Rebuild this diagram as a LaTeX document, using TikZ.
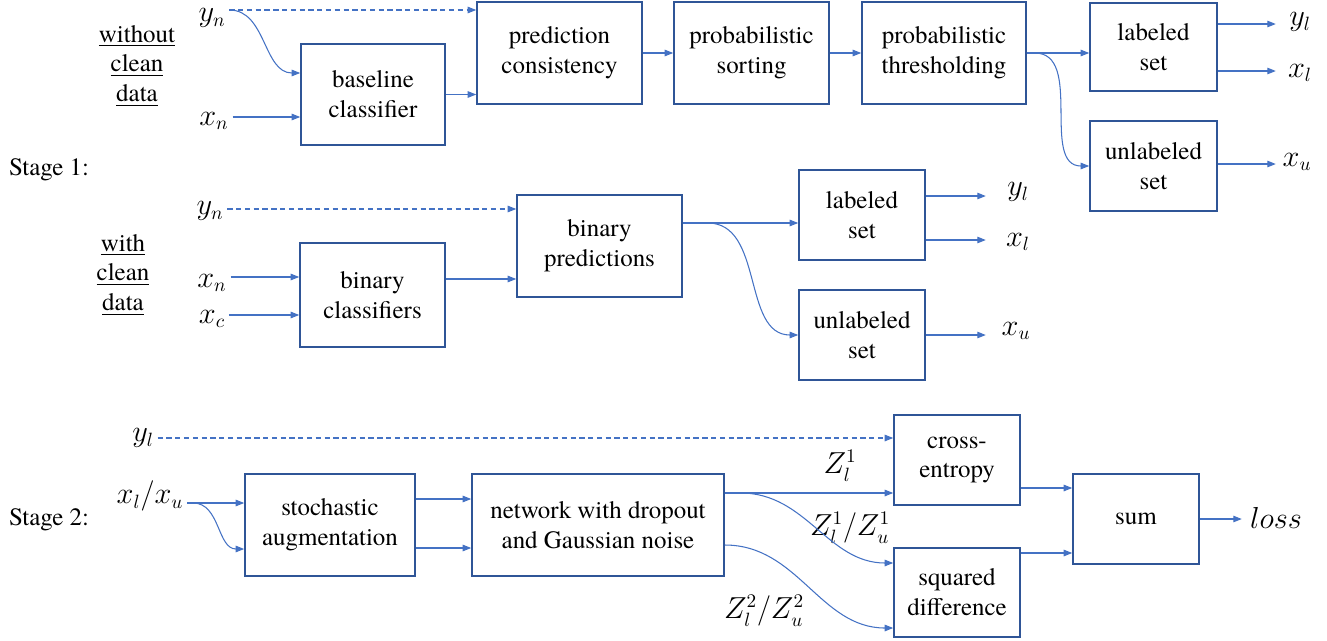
\documentclass[tikz,border=0pt]{standalone}
\usepackage{amsmath}
\usepackage{fontspec}
\setmainfont{TeX Gyre Termes}
\usepackage{tikz}
\usetikzlibrary{positioning, arrows.meta, calc}
\definecolor{boxblue}{RGB}{47,85,151}
\definecolor{arrowblue}{RGB}{68,114,196}

\begin{document}
\begin{tikzpicture}[x=0.02cm, y=-0.02cm,
        every node/.style={font=\fontsize{14.2}{17}\selectfont},
        var/.style={font=\fontsize{16}{18}\selectfont, inner sep=2pt},
        blk/.style={draw=boxblue, line width=0.9pt, align=center, inner sep=0pt},
        flow/.style={draw=arrowblue, line width=0.6pt, -{Triangle[length=0.17cm, width=0.13cm]}},
        hint/.style={flow, dashed, dash pattern=on 3pt off 2pt}]
            \useasboundingbox (0,0) rectangle (1327,640);

            % Stage labels
            \node (st1) at (49,170) {Stage 1:};
            \node (st2) at (49,520) {Stage 2:};
            \node[align=center] (noclean) at (137,66) {\underline{without}\\\underline{clean}\\\underline{data}};
            \node[align=center] (clean) at (123,275) {\underline{with}\\\underline{clean}\\\underline{data}};

            % Stage 1 - without clean data
            \node[blk, minimum width=144*0.02cm, minimum height=101*0.02cm] (base) at (373,94.5) {baseline\\classifier};
            \node[blk, minimum width=165*0.02cm, minimum height=102*0.02cm] (cons) at (559.5,53) {prediction\\consistency};
            \node[blk, minimum width=155*0.02cm, minimum height=102*0.02cm] (sort) at (751.5,53) {probabilistic\\sorting};
            \node[blk, minimum width=164*0.02cm, minimum height=102*0.02cm] (thr) at (944,53) {probabilistic\\thresholding};
            \node[blk, minimum width=127*0.02cm, minimum height=88*0.02cm] (lab1) at (1153.5,47) {labeled\\set};
            \node[blk, minimum width=127*0.02cm, minimum height=90*0.02cm] (unl1) at (1153.5,166) {unlabeled\\set};

            \node[var] (yn1) at (212,18) {$y_n$};
            \node[var] (xn1) at (214,121) {$x_n$};
            \node[var] (yl1) at (1300,22) {$y_l$};
            \node[var] (xl1) at (1300,73) {$x_l$};
            \node[var] (xu1) at (1297,162) {$x_u$};

            \coordinate (y1) at ($(yn1.east)+(0,-8)$);
            \draw[hint] (y1) -- (y1 -| cons.west);
            \draw[flow] (y1) to[out=0, in=180] ($(base.west)+(0,-21.5)$);
            \coordinate (x1) at ($(xn1.east)+(0,-4)$);
            \draw[flow] (x1) -- (x1 -| base.west);
            \draw[flow] (base.east) -- (base.east -| cons.west);
            \draw[flow] (cons.east) -- (sort.west);
            \draw[flow] (sort.east) -- (thr.west);
            \draw[flow] (thr.east) -- (thr.east -| lab1.west);
            \draw[flow] (thr.east) -- ++(8,0) to[out=0, in=180] (unl1.west);
            \draw[flow] ($(lab1.east)+(0,-23)$) -- ($(lab1.east)+(58,-23)$);
            \draw[flow] ($(lab1.east)+(0,24)$) -- ($(lab1.east)+(58,24)$);
            \draw[flow] ($(unl1.east)+(0,-2)$) -- ($(unl1.east)+(58,-2)$);

            % Stage 1 - with clean data
            \node[blk, minimum width=145*0.02cm, minimum height=104*0.02cm] (bcls) at (372.5,295) {binary\\classifiers};
            \node[blk, minimum width=165*0.02cm, minimum height=102*0.02cm] (bpred) at (599.5,246) {binary\\predictions};
            \node[blk, minimum width=126*0.02cm, minimum height=90*0.02cm] (lab2) at (862,215) {labeled\\set};
            \node[blk, minimum width=126*0.02cm, minimum height=90*0.02cm] (unl2) at (862,335) {unlabeled\\set};

            \node[var] (yn2) at (210,211) {$y_n$};
            \node[var] (xn2) at (212,283) {$x_n$};
            \node[var] (xc2) at (212,319) {$x_c$};
            \node[var] (yl2) at (1018,192) {$y_l$};
            \node[var] (xl2) at (1018,242) {$x_l$};
            \node[var] (xu2) at (1016,331) {$x_u$};

            \coordinate (y2) at ($(yn2.east)+(0,-2)$);
            \draw[hint] (y2) -- (y2 -| bpred.west);
            \coordinate (x2) at ($(xn2.east)+(0,-6)$);
            \draw[flow] (x2) -- (x2 -| bcls.west);
            \coordinate (c2) at ($(xc2.east)+(0,-4)$);
            \draw[flow] (c2) -- (c2 -| bcls.west);
            \coordinate (b2) at ($(bcls.east)+(0,-16)$);
            \draw[flow] (b2) -- (b2 -| bpred.west);
            \coordinate (p2) at ($(bpred.east)+(0,-23)$);
            \draw[flow] (p2) -- (p2 -| lab2.west);
            \draw[flow] (p2) -- ++(25,0) to[out=0, in=180] (unl2.west);
            \draw[flow] ($(lab2.east)+(0,-19)$) -- ($(lab2.east)+(60,-19)$);
            \draw[flow] ($(lab2.east)+(0,25)$) -- ($(lab2.east)+(60,25)$);
            \draw[flow] (unl2.east) -- ($(unl2.east)+(60,0)$);

            % Stage 2
            \node[blk, minimum width=170*0.02cm, minimum height=102*0.02cm] (aug) at (330,525) {stochastic\\augmentation};
            \node[blk, minimum width=252*0.02cm, minimum height=102*0.02cm] (net) at (598,525) {network with dropout\\and Gaussian noise};
            \node[blk, minimum width=126*0.02cm, minimum height=90*0.02cm] (ce) at (957,460) {cross-\\entropy};
            \node[blk, minimum width=126*0.02cm, minimum height=89*0.02cm] (sq) at (957,592.5) {squared\\difference};
            \node[blk, minimum width=126*0.02cm, minimum height=90*0.02cm] (sum) at (1136,519) {sum};

            \node[var] (yl3) at (143,438) {$y_l$};
            \node[var] (xlu) at (150,496) {$x_l/x_u$};
            \node[var] (loss) at (1276,518) {$loss$};
            \node[var] (z1) at (840,466) {$Z_l^1$};
            \node[var] (z1u) at (850,528) {$Z_l^1/Z_u^1$};
            \node[var] (z2u) at (764,611) {$Z_l^2/Z_u^2$};

            \coordinate (y3) at ($(yl3.east)+(0,0)$);
            \draw[hint] (y3) -- (y3 -| ce.west);
            \coordinate (x3) at ($(xlu.east)+(0,7)$);
            \draw[flow] (x3) -- (x3 -| aug.west);
            \draw[flow] (x3) -- ++(6,0) to[out=0, in=180] ($(aug.west)+(0,24)$);
            \draw[flow] ($(aug.east)+(0,-26)$) -- ($(net.west)+(0,-26)$);
            \draw[flow] ($(aug.east)+(0,23)$) -- ($(net.west)+(0,23)$);
            \coordinate (n1) at ($(net.east)+(0,-32)$);
            \draw[flow] (n1) -- (n1 -| ce.west);
            \draw[flow] (n1) -- ++(16,0) to[out=0, in=180] ($(sq.west)+(0,-29.5)$);
            \draw[flow] ($(net.east)+(0,20)$) to[out=0, in=180] ($(sq.west)+(0,35.5)$);
            \coordinate (c1) at ($(ce.east)+(0,28)$);
            \draw[flow] (c1) -- (c1 -| sum.west);
            \coordinate (s1) at ($(sq.east)+(0,-39.5)$);
            \draw[flow] (s1) -- (s1 -| sum.west);
            \draw[flow] (sum.east) -- ($(sum.east)+(42,0)$);
        \end{tikzpicture}
\end{document}
